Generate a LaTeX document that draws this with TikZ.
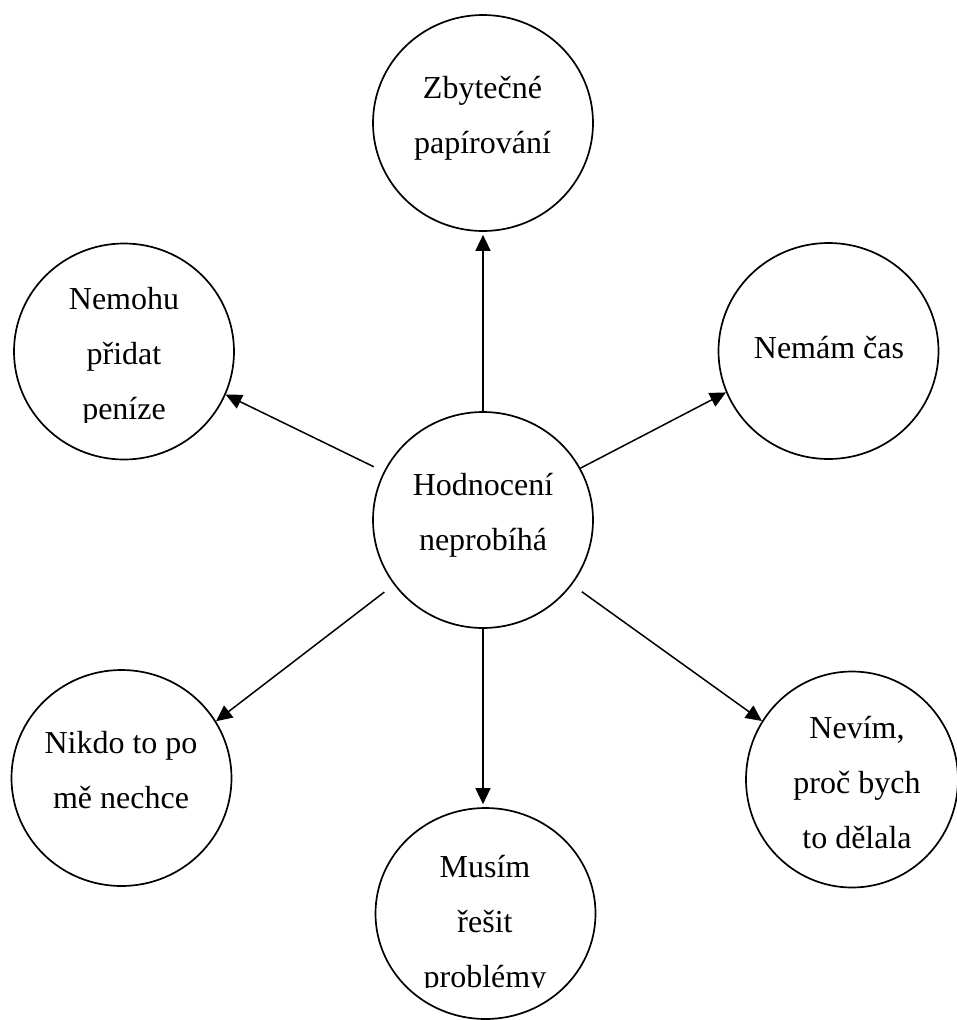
\documentclass[tikz,border=0pt]{standalone}
\usepackage{fontspec}
\setmainfont{Liberation Serif}
\usetikzlibrary{shapes.geometric,arrows.meta}
\tikzset{
  bubble/.style={draw, ellipse, line width=1.7pt, minimum width=220pt, minimum height=216pt, inner sep=0pt},
  txt/.style={anchor=base, inner sep=0pt, font=\fontsize{32}{55}\selectfont},
  arr/.style={-{Triangle[length=16pt,width=15pt]}, line width=1.5pt},
}
\newcommand\mlines[1]{\begin{tabular}[t]{@{}c@{}}#1\end{tabular}}
\begin{document}
\begin{tikzpicture}[x=1pt,y=-1pt]
\useasboundingbox (0,0) rectangle (957,1020);
\clip (0,0) rectangle (957,1020);
% circles
\node[bubble] (T)  at (483,123) {};
\node[bubble] (UL) at (124,351.5) {};
\node[bubble] (UR) at (828.5,351) {};
\node[bubble] (C)  at (483,520) {};
\node[bubble] (LL) at (121.5,778) {};
\node[bubble, minimum height=211pt] (B)  at (485.5,913.5) {};
\node[bubble, minimum width=212pt] (LR) at (852,779.5) {};
% texts
\node[txt] (tT)  at (482.5,98) {\mlines{Zbytečné\\papírování}};
\begin{scope}
  \clip (0,0) rectangle (260,422);
  \node[txt] (tUL) at (124,309) {\mlines{Nemohu\\přidat\\peníze}};
\end{scope}
\node[txt] (tUR) at (829,358) {Nemám čas};
\node[txt] (tC)  at (483,495) {\mlines{Hodnocení\\neprobíhá}};
\node[txt] (tLL) at (121,753) {\mlines{Nikdo to po\\mě nechce}};
\begin{scope}
  \clip (360,780) rectangle (610,987);
  \node[txt] (tB) at (485,877) {\mlines{Musím\\řešit\\problémy}};
\end{scope}
\node[txt] (tLR) at (857,738) {\mlines{Nevím,\\proč bych\\to dělala}};
% connectors
\draw[arr, shorten >=3pt] (C.90) -- (C.90 |- T.south);
\draw[arr, shorten >=3pt] (C.-90) -- (C.-90 |- B.north);
\draw[arr, shorten <=11pt] (C.154.5) -- (UL.-23.4);
\draw[arr] (C.28) -- (UR.202.2);
\draw[arr, shorten <=12pt] (C.216) -- (LL.31.3);
\draw[arr, shorten <=12pt] (C.-36) -- (LR.147);
\end{tikzpicture}
\end{document}
